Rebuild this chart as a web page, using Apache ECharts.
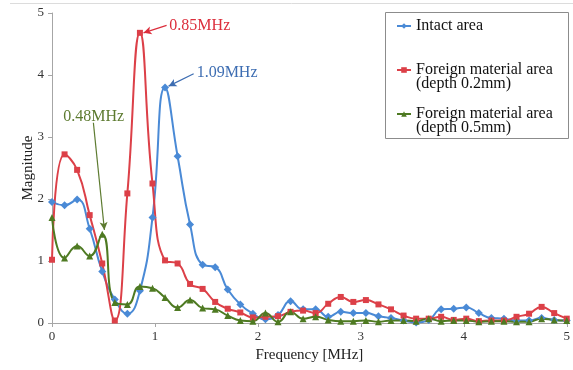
<!DOCTYPE html>
<html>
<head>
<meta charset="utf-8">
<script src="https://cdn.jsdelivr.net/npm/echarts@6/dist/echarts.min.js"></script>
<style>
html,body{margin:0;padding:0;background:#fff;}
#chart{width:573px;height:370px;}
</style>
</head>
<body>
<div id="chart"></div>
<script>
// Frequency [MHz] of each sample
const frequency = [0, 0.122, 0.244, 0.366, 0.488, 0.610, 0.732, 0.854, 0.976, 1.098,
  1.220, 1.341, 1.463, 1.585, 1.707, 1.829, 1.951, 2.073, 2.195, 2.317,
  2.439, 2.561, 2.683, 2.805, 2.927, 3.049, 3.171, 3.293, 3.415, 3.537,
  3.659, 3.780, 3.902, 4.024, 4.146, 4.268, 4.390, 4.512, 4.634, 4.756,
  4.878, 5.000];

const intactArea = [1.95, 1.90, 1.99, 1.52, 0.83, 0.38, 0.15, 0.52, 1.70, 3.80,
  2.69, 1.59, 0.94, 0.90, 0.54, 0.30, 0.15, 0.06, 0.13, 0.35,
  0.22, 0.22, 0.10, 0.18, 0.16, 0.16, 0.11, 0.08, 0.04, 0.01,
  0.05, 0.22, 0.23, 0.25, 0.16, 0.08, 0.07, 0.04, 0.04, 0.08,
  0.05, 0.04];

const foreign02 = [1.02, 2.72, 2.47, 1.74, 0.96, 0.04, 2.09, 4.68, 2.25, 1.01,
  0.96, 0.63, 0.55, 0.34, 0.23, 0.17, 0.09, 0.10, 0.11, 0.18,
  0.20, 0.16, 0.31, 0.42, 0.34, 0.37, 0.30, 0.22, 0.12, 0.07,
  0.07, 0.10, 0.05, 0.07, 0.03, 0.04, 0.04, 0.10, 0.15, 0.26,
  0.16, 0.07];

const foreign05 = [1.70, 1.05, 1.24, 1.08, 1.43, 0.33, 0.30, 0.59, 0.56, 0.41,
  0.25, 0.37, 0.24, 0.22, 0.12, 0.04, 0.03, 0.16, 0.02, 0.18,
  0.07, 0.10, 0.05, 0.03, 0.03, 0.04, 0.02, 0.04, 0.04, 0.03,
  0.07, 0.03, 0.04, 0.04, 0.02, 0.03, 0.03, 0.02, 0.02, 0.07,
  0.05, 0.04];

const seriesNames = ['Intact area', 'Foreign material area (depth 0.2mm)', 'Foreign material area (depth 0.5mm)'];
const legendLabels = ['Intact area', 'Foreign material area\n(depth 0.2mm)', 'Foreign material area\n(depth 0.5mm)'];
const xTicks = [0, 1, 2, 3, 4, 5];
const yTicks = [0, 1, 2, 3, 4, 5];
const peakLabels = ['1.09MHz', '0.85MHz', '0.48MHz'];
const peakIndex = [9, 7, 4];

const FONT = '"Liberation Serif", "Times New Roman", serif';
const colors = ['#4a8ad6', '#dc4048', '#4e7a22'];
const textColors = ['#3d6db2', '#dc2e3c', '#5d7b30'];

function pairs(ys) { return frequency.map((f, i) => [f, ys[i]]); }

function annotation(k, textAt, arrowFrom, tipDx, tipDy) {
  const i = peakIndex[k];
  const ys = k === 0 ? intactArea : k === 1 ? foreign02 : foreign05;
  return {
    markPoint: {
      silent: true, animation: false,
      symbol: 'circle', symbolSize: 0,
      data: [{ coord: textAt }],
      label: {
        show: true, formatter: peakLabels[k], position: [0, 0],
        align: 'left', verticalAlign: 'middle',
        color: textColors[k], fontFamily: FONT, fontSize: 16
      }
    },
    markLine: {
      silent: true, animation: false,
      symbol: ['none', 'arrow'], symbolSize: [6, 8],
      label: { show: false },
      lineStyle: { color: textColors[k], width: 1.2, type: 'solid' },
      data: [[{ coord: arrowFrom }, { coord: [frequency[i] + tipDx, ys[i] + tipDy] }]]
    }
  };
}

const chart = echarts.init(document.getElementById('chart'), null, { renderer: 'canvas' });
const symbols = ['diamond', 'rect', 'triangle'];
const symbolSizes = [8, 6, 7];
const datasets = [intactArea, foreign02, foreign05];
const annots = [
  annotation(0, [1.405, 4.03], [1.376, 4.02], 0.034, 0.02),
  annotation(1, [1.14, 4.79], [1.113, 4.80], 0.035, 0.0),
  annotation(2, [0.11, 3.32], [0.402, 3.23], 0.021, 0.07)
];

chart.setOption({
  animation: false,
  backgroundColor: '#ffffff',
  textStyle: { fontFamily: FONT },
  grid: { left: 52, right: 6, top: 13, bottom: 47, containLabel: false },
  xAxis: {
    type: 'value', min: xTicks[0], max: xTicks[xTicks.length - 1], interval: 1,
    name: 'Frequency [MHz]', nameLocation: 'middle', nameGap: 24,
    nameTextStyle: { fontFamily: FONT, fontSize: 15, color: '#222' },
    axisLine: { lineStyle: { color: '#a6a6a6', width: 1 } },
    axisTick: { show: true, length: 4, inside: false, lineStyle: { color: '#a6a6a6' } },
    axisLabel: { fontFamily: FONT, fontSize: 13, color: '#333', margin: 7 },
    splitLine: { show: false }
  },
  yAxis: {
    type: 'value', min: yTicks[0], max: yTicks[yTicks.length - 1], interval: 1,
    name: 'Magnitude', nameLocation: 'middle', nameGap: 16, nameMoveOverlap: false,
    nameTextStyle: { fontFamily: FONT, fontSize: 15, color: '#222' },
    axisLine: { show: true, lineStyle: { color: '#a6a6a6', width: 1 } },
    axisTick: { show: true, length: 4, inside: false, lineStyle: { color: '#a6a6a6' } },
    axisLabel: { fontFamily: FONT, fontSize: 13, color: '#333', margin: 8 },
    splitLine: { show: false }
  },
  legend: {
    orient: 'vertical', left: 396, top: 4, padding: 0, itemGap: 0,
    itemWidth: 14, itemHeight: 7,
    data: seriesNames,
    formatter: function (name) {
      const t = legendLabels[seriesNames.indexOf(name)];
      return t.indexOf('\n') >= 0 ? '\n' + t : '\n' + t + '\n';
    },
    textStyle: { fontFamily: FONT, fontSize: 16, lineHeight: 14, color: '#111' }
  },
  graphic: [
    { type: 'rect', silent: true, z: 100,
      shape: { x: 385.5, y: 12.5, width: 183, height: 126 },
      style: { fill: 'none', stroke: '#8c8c8c', lineWidth: 1 } },
    { type: 'line', silent: true,
      shape: { x1: 10, y1: 3.5, x2: 573, y2: 3.5 },
      style: { stroke: '#dcdcdc', lineWidth: 1 } }
  ],
  series: datasets.map((d, k) => Object.assign({
    name: seriesNames[k],
    type: 'line',
    data: pairs(d),
    smooth: 0.5,
    symbol: symbols[k],
    symbolSize: symbolSizes[k],
    showAllSymbol: true,
    color: colors[k],
    lineStyle: { width: 2, color: colors[k] },
    itemStyle: { color: colors[k] }
  }, annots[k]))
});
</script>
</body>
</html>
